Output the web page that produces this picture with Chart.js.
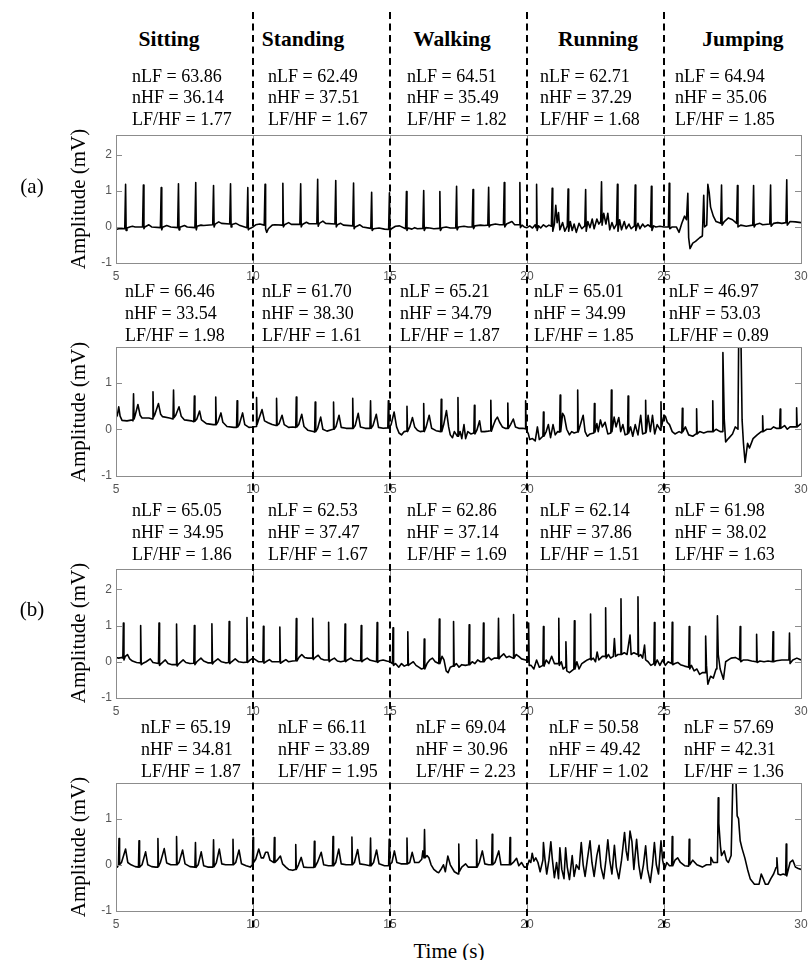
<!DOCTYPE html>
<html lang="en">
<head>
<meta charset="UTF-8">
<title>ECG amplitude during activities</title>
<script src="https://cdn.jsdelivr.net/npm/chart.js"></script>
<style>
  body { margin: 0; background: #fff; }
  #fig { position: relative; width: 808px; height: 960px; overflow: hidden;
         font-family: "Liberation Serif", "Times New Roman", serif; color: #000; }
  #fig canvas { position: absolute; left: 0; }
  .act  { position: absolute; font-weight: bold; font-size: 21.5px; line-height: 22px;
          white-space: nowrap; transform: translateX(-50%); }
  .stat { position: absolute; font-size: 18px; line-height: 21.8px; white-space: nowrap; }
  .ylab { position: absolute; font-size: 21px; line-height: 22px; white-space: nowrap;
          transform: translate(-50%, -50%) rotate(-90deg); }
  .tag  { position: absolute; font-size: 21px; line-height: 22px; transform: translate(-50%, -50%); }
  #overlay { z-index: 5; pointer-events: none; top: 0; }
</style>
</head>
<body>
<div id="fig"></div>

<script>
// ---- data ----
const activities = ['Sitting', 'Standing', 'Walking', 'Running', 'Jumping'];
const boundaries = [10, 15, 20, 25];
const xTicks = [5, 10, 15, 20, 25, 30];
const yTicksTall = [-1, 0, 1, 2];
const yTicksShort = [-1, 0, 1];

// one row per panel, one value per activity
const nLF   = [[63.86, 62.49, 64.51, 62.71, 64.94], [66.46, 61.70, 65.21, 65.01, 46.97],
               [65.05, 62.53, 62.86, 62.14, 61.98], [65.19, 66.11, 69.04, 50.58, 57.69]];
const nHF   = [[36.14, 37.51, 35.49, 37.29, 35.06], [33.54, 38.30, 34.79, 34.99, 53.03],
               [34.95, 37.47, 37.14, 37.86, 38.02], [34.81, 33.89, 30.96, 49.42, 42.31]];
const lfhf  = [[1.77, 1.67, 1.82, 1.68, 1.85], [1.98, 1.61, 1.87, 1.85, 0.89],
               [1.86, 1.67, 1.69, 1.51, 1.63], [1.87, 1.95, 2.23, 1.02, 1.36]];

// ECG traces, flat list of time (s), amplitude (mV) pairs
const sigA1 = [
  5.00,-0.07, 5.10,-0.05, 5.20,-0.04, 5.32,-0.05, 5.35,1.18, 5.37,-0.10, 5.40,-0.03, 5.50,0.00, 5.60,0.02, 5.70,0.00,
  5.97,0.00, 6.00,1.16, 6.02,-0.05, 6.05,0.00, 6.20,0.06, 6.30,0.00, 6.62,-0.02, 6.65,1.09, 6.67,-0.08, 6.70,-0.01,
  6.85,0.04, 7.00,0.00, 7.25,-0.02, 7.28,1.20, 7.30,-0.08, 7.33,-0.01, 7.50,0.04, 7.60,0.00, 7.88,-0.02, 7.91,1.23,
  7.93,-0.08, 7.96,0.02, 8.10,0.05, 8.20,0.04, 8.53,0.06, 8.56,1.15, 8.58,0.00, 8.62,0.08, 8.75,0.14, 8.85,0.10,
  9.15,0.08, 9.18,1.20, 9.20,0.00, 9.23,0.07, 9.38,0.10, 9.50,0.05, 9.78,-0.02, 9.81,1.09, 9.83,-0.08, 9.86,-0.05,
  9.95,-0.02, 10.00,0.00, 10.10,0.06, 10.25,0.08, 10.41,0.05, 10.44,1.18, 10.46,-0.05, 10.50,-0.15, 10.56,-0.05, 10.70,0.05,
  10.80,0.06, 11.06,0.05, 11.09,1.21, 11.11,0.00, 11.15,0.06, 11.30,0.12, 11.40,0.07, 11.71,0.07, 11.74,1.20, 11.76,0.00,
  11.80,0.07, 11.95,0.13, 12.05,0.09, 12.33,0.09, 12.36,1.32, 12.38,0.02, 12.42,0.10, 12.55,0.16, 12.65,0.10, 12.99,0.08,
  13.02,1.29, 13.04,0.00, 13.08,0.06, 13.20,0.10, 13.30,0.05, 13.64,0.03, 13.67,1.22, 13.69,-0.05, 13.73,0.00, 13.90,0.06,
  14.00,0.00, 14.30,-0.04, 14.33,0.96, 14.35,-0.10, 14.40,-0.05, 14.60,-0.03, 14.80,-0.06, 14.95,-0.07, 14.98,0.95, 15.00,-0.10,
  15.05,-0.05, 15.20,0.02, 15.35,0.03, 15.57,-0.05, 15.60,0.98, 15.62,-0.10, 15.66,-0.03, 15.80,-0.06, 15.90,-0.02, 16.00,-0.05,
  16.20,-0.04, 16.23,1.01, 16.25,-0.10, 16.30,-0.02, 16.45,-0.03, 16.60,-0.05, 16.79,-0.04, 16.82,0.98, 16.84,-0.10, 16.90,-0.02,
  17.05,0.00, 17.20,-0.03, 17.40,-0.03, 17.43,1.13, 17.45,-0.08, 17.50,0.00, 17.70,0.02, 17.85,0.00, 18.00,0.00, 18.03,1.04,
  18.05,-0.05, 18.10,0.03, 18.30,0.05, 18.45,0.04, 18.57,0.05, 18.60,1.10, 18.62,0.00, 18.66,0.05, 18.85,0.08, 19.00,0.06,
  19.14,0.06, 19.17,1.23, 19.19,0.00, 19.25,0.08, 19.45,0.15, 19.55,0.06, 19.71,0.06, 19.74,1.23, 19.76,-0.02, 19.82,0.05,
  19.90,0.00, 20.00,-0.02, 20.10,0.03, 20.20,-0.03, 20.30,0.06, 20.33,-0.02, 20.35,1.18, 20.37,-0.10, 20.42,0.03, 20.50,-0.03,
  20.60,0.06, 20.70,0.00, 20.80,0.05, 20.89,0.02, 20.92,1.07, 20.94,-0.12, 21.00,0.08, 21.05,0.60, 21.10,0.12, 21.15,0.40,
  21.20,-0.08, 21.30,0.12, 21.38,-0.12, 21.47,0.02, 21.50,1.05, 21.52,-0.12, 21.58,0.15, 21.65,-0.10, 21.72,0.08, 21.80,-0.15,
  21.90,0.10, 22.00,-0.05, 22.11,0.03, 22.14,1.04, 22.16,-0.12, 22.22,0.15, 22.30,-0.02, 22.38,0.22, 22.45,-0.05, 22.55,0.22,
  22.62,0.08, 22.69,0.15, 22.72,1.25, 22.74,0.05, 22.80,0.38, 22.88,0.08, 22.95,0.38, 23.02,-0.08, 23.10,0.12, 23.18,-0.05,
  23.27,0.08, 23.30,1.18, 23.32,-0.12, 23.38,0.20, 23.45,-0.08, 23.55,0.15, 23.62,-0.05, 23.72,0.08, 23.80,-0.05, 23.92,0.03,
  23.95,1.16, 23.97,-0.10, 24.05,0.10, 24.12,-0.05, 24.22,0.08, 24.30,0.00, 24.42,0.06, 24.51,0.00, 24.54,1.13, 24.56,-0.10,
  24.62,0.03, 24.70,0.00, 24.85,0.02, 25.00,0.00, 25.05,0.00, 25.16,0.00, 25.19,1.21, 25.21,-0.05, 25.30,0.00, 25.45,0.00,
  25.55,-0.15, 25.65,0.10, 25.75,0.30, 25.82,0.20, 25.87,0.93, 25.90,-0.30, 25.95,-0.60, 26.05,-0.45, 26.15,-0.40, 26.30,-0.30,
  26.40,-0.25, 26.45,0.88, 26.48,0.00, 26.56,0.05, 26.60,1.18, 26.65,0.95, 26.70,0.55, 26.80,0.30, 26.90,0.15, 27.07,0.10,
  27.10,1.16, 27.12,0.05, 27.20,0.15, 27.35,0.25, 27.50,0.20, 27.65,0.10, 27.68,1.15, 27.70,0.00, 27.80,0.05, 28.00,0.02,
  28.24,0.05, 28.27,1.15, 28.29,0.00, 28.35,0.07, 28.50,0.10, 28.60,0.06, 28.86,0.08, 28.89,1.16, 28.91,0.02, 29.00,0.10,
  29.15,0.12, 29.30,0.10, 29.45,0.12, 29.48,1.31, 29.50,0.05, 29.60,0.15, 29.80,0.14, 30.00,0.12
];

const sigA2 = [
  5.00,0.25, 5.05,0.30, 5.10,0.48, 5.15,0.28, 5.22,0.19, 5.40,0.18, 5.60,0.20, 5.62,0.18, 5.64,0.76, 5.66,0.22,
  5.70,0.30, 5.80,0.53, 5.88,0.30, 5.95,0.24, 6.20,0.24, 6.33,0.22, 6.35,0.80, 6.37,0.26, 6.42,0.32, 6.55,0.55,
  6.63,0.32, 6.70,0.27, 6.95,0.24, 7.08,0.22, 7.10,0.84, 7.12,0.25, 7.18,0.30, 7.30,0.48, 7.38,0.28, 7.50,0.20,
  7.75,0.18, 7.84,0.16, 7.86,0.71, 7.88,0.17, 7.95,0.22, 8.05,0.39, 8.12,0.20, 8.30,0.12, 8.55,0.10, 8.62,0.10,
  8.64,0.69, 8.66,0.10, 8.72,0.16, 8.83,0.35, 8.90,0.15, 9.05,0.06, 9.30,0.04, 9.40,0.04, 9.42,0.61, 9.44,0.05,
  9.50,0.10, 9.62,0.35, 9.70,0.10, 9.85,0.04, 10.00,0.05, 10.11,0.06, 10.13,0.68, 10.15,0.10, 10.20,0.20, 10.33,0.42,
  10.42,0.18, 10.55,0.14, 10.70,0.10, 10.84,0.08, 10.86,0.66, 10.88,0.08, 10.95,0.12, 11.06,0.30, 11.14,0.10, 11.30,0.04,
  11.45,0.05, 11.56,0.04, 11.58,0.69, 11.60,0.05, 11.67,0.10, 11.78,0.32, 11.86,0.06, 12.00,-0.02, 12.20,-0.05, 12.25,-0.06,
  12.27,0.58, 12.29,-0.05, 12.36,0.02, 12.47,0.26, 12.55,0.00, 12.70,-0.04, 12.92,0.00, 12.94,0.58, 12.96,0.00, 13.03,0.06,
  13.14,0.30, 13.22,0.04, 13.40,0.02, 13.62,0.02, 13.64,0.66, 13.66,0.02, 13.73,0.08, 13.84,0.34, 13.92,0.05, 14.10,0.02,
  14.27,0.02, 14.29,0.61, 14.31,0.02, 14.38,0.08, 14.50,0.32, 14.58,0.04, 14.75,0.02, 14.92,0.03, 14.94,0.61, 14.96,0.02,
  15.04,0.10, 15.15,0.37, 15.24,0.05, 15.33,-0.08, 15.42,-0.12, 15.52,-0.05, 15.60,-0.04, 15.62,0.49, 15.64,-0.05, 15.72,0.05,
  15.82,0.25, 15.90,0.05, 16.00,-0.02, 16.10,-0.05, 16.21,-0.04, 16.23,0.55, 16.25,-0.05, 16.32,0.05, 16.43,0.30, 16.52,0.02,
  16.68,-0.03, 16.85,-0.05, 16.87,0.64, 16.89,-0.05, 16.96,0.10, 17.06,0.40, 17.14,0.05, 17.20,-0.12, 17.28,-0.18, 17.35,-0.05,
  17.46,-0.15, 17.48,0.68, 17.50,-0.15, 17.56,-0.05, 17.62,-0.20, 17.70,0.10, 17.76,-0.20, 17.84,-0.05, 17.95,-0.10, 18.06,-0.08,
  18.08,0.51, 18.10,-0.10, 18.17,-0.02, 18.27,0.18, 18.33,-0.05, 18.45,-0.05, 18.58,-0.04, 18.66,-0.03, 18.68,0.62, 18.70,-0.04,
  18.77,0.08, 18.85,0.20, 18.92,0.26, 19.00,0.15, 19.10,0.05, 19.20,0.02, 19.28,0.02, 19.30,0.56, 19.32,0.02, 19.40,0.10,
  19.50,0.22, 19.58,0.05, 19.70,0.02, 19.85,0.02, 19.93,0.01, 19.95,0.61, 19.97,0.00, 20.05,-0.10, 20.10,-0.22, 20.20,-0.20,
  20.30,-0.25, 20.38,0.05, 20.45,-0.22, 20.58,-0.15, 20.60,0.37, 20.62,-0.15, 20.70,-0.05, 20.78,0.10, 20.86,-0.18, 20.95,0.10,
  21.03,-0.12, 21.12,-0.05, 21.19,-0.06, 21.21,0.73, 21.23,-0.05, 21.30,0.34, 21.36,0.28, 21.45,0.00, 21.55,-0.12, 21.63,-0.05,
  21.72,-0.08, 21.83,-0.06, 21.85,0.84, 21.87,-0.06, 21.95,0.10, 22.05,0.30, 22.12,-0.05, 22.20,-0.15, 22.30,-0.10, 22.44,-0.08,
  22.46,0.55, 22.48,-0.06, 22.55,0.12, 22.60,-0.05, 22.68,0.20, 22.75,0.05, 22.85,0.15, 22.95,-0.10, 23.06,-0.08, 23.08,0.84,
  23.10,-0.05, 23.18,0.26, 23.25,0.05, 23.35,0.25, 23.42,-0.05, 23.50,0.10, 23.58,-0.12, 23.67,-0.10, 23.69,0.71, 23.71,-0.08,
  23.78,0.05, 23.86,-0.15, 23.95,0.10, 24.05,-0.12, 24.15,0.30, 24.22,-0.10, 24.31,-0.08, 24.33,0.62, 24.35,-0.06, 24.42,0.30,
  24.50,-0.05, 24.58,0.30, 24.66,-0.10, 24.75,0.10, 24.87,-0.02, 24.89,0.59, 24.91,0.05, 24.98,0.25, 25.05,0.28, 25.12,0.15,
  25.20,0.10, 25.30,-0.05, 25.40,-0.10, 25.55,-0.05, 25.65,-0.08, 25.67,0.45, 25.69,-0.05, 25.78,0.05, 25.90,-0.12, 26.05,-0.15,
  26.17,-0.10, 26.19,0.44, 26.21,-0.10, 26.30,-0.05, 26.45,-0.08, 26.60,-0.05, 26.76,-0.05, 26.78,0.61, 26.80,-0.05, 26.90,0.00,
  27.05,-0.05, 27.13,-0.05, 27.15,1.64, 27.20,0.20, 27.25,-0.27, 27.35,-0.20, 27.50,-0.10, 27.60,0.05, 27.70,0.00, 27.73,2.30,
  27.80,2.30, 27.85,0.20, 27.90,-0.30, 27.96,-0.71, 28.05,-0.30, 28.12,-0.40, 28.25,-0.20, 28.40,-0.12, 28.55,-0.05, 28.58,-0.05,
  28.60,0.29, 28.62,-0.05, 28.75,0.00, 28.90,0.00, 29.00,0.05, 29.10,0.02, 29.22,0.02, 29.24,0.43, 29.26,0.02, 29.40,0.08,
  29.50,0.00, 29.60,0.05, 29.72,0.05, 29.82,0.05, 29.84,0.46, 29.86,0.05, 30.00,0.12
];

const sigB1 = [
  5.00,0.12, 5.10,0.10, 5.20,0.12, 5.25,0.10, 5.27,1.07, 5.29,0.05, 5.34,0.15, 5.42,0.20, 5.50,0.08, 5.60,0.02,
  5.75,-0.02, 5.88,-0.03, 5.90,1.00, 5.92,-0.08, 5.97,-0.05, 6.10,0.00, 6.25,0.08, 6.35,-0.02, 6.55,-0.05, 6.57,1.07,
  6.59,-0.10, 6.65,-0.05, 6.80,0.05, 6.90,-0.05, 7.05,-0.08, 7.19,-0.08, 7.21,1.04, 7.23,-0.12, 7.30,-0.05, 7.45,0.05,
  7.55,-0.02, 7.70,-0.05, 7.84,-0.04, 7.86,1.00, 7.88,-0.08, 7.95,0.00, 8.10,0.10, 8.20,0.02, 8.35,-0.03, 8.48,-0.03,
  8.50,1.05, 8.52,-0.06, 8.58,0.00, 8.72,0.08, 8.85,0.00, 9.00,-0.03, 9.11,-0.02, 9.13,1.11, 9.15,-0.05, 9.22,0.00,
  9.35,0.08, 9.48,0.00, 9.65,-0.02, 9.76,-0.01, 9.78,1.22, 9.80,-0.02, 9.90,0.05, 10.00,0.10, 10.10,0.05, 10.20,0.00,
  10.36,0.00, 10.38,0.98, 10.40,-0.04, 10.47,0.00, 10.60,0.06, 10.70,0.00, 10.85,0.00, 10.96,0.00, 10.98,0.96, 11.00,-0.04,
  11.08,0.00, 11.20,0.06, 11.30,0.00, 11.45,0.02, 11.56,0.03, 11.58,1.19, 11.60,0.02, 11.68,0.12, 11.78,0.20, 11.88,0.12,
  12.00,0.10, 12.16,0.10, 12.18,1.20, 12.20,0.06, 12.27,0.12, 12.38,0.18, 12.48,0.08, 12.60,0.05, 12.74,0.05, 12.76,1.09,
  12.78,0.00, 12.85,0.05, 12.97,0.10, 13.08,0.02, 13.20,0.00, 13.34,0.02, 13.36,1.04, 13.38,0.00, 13.45,0.05, 13.57,0.10,
  13.68,0.04, 13.80,0.03, 13.93,0.03, 13.95,1.00, 13.97,0.00, 14.05,0.05, 14.17,0.10, 14.28,0.04, 14.40,0.02, 14.51,0.00,
  14.53,1.08, 14.55,-0.02, 14.62,0.03, 14.75,0.05, 14.88,0.02, 15.00,0.00, 15.09,-0.05, 15.11,0.94, 15.13,-0.10, 15.20,-0.05,
  15.32,-0.15, 15.42,-0.05, 15.52,-0.12, 15.63,-0.08, 15.65,0.83, 15.67,-0.10, 15.75,-0.05, 15.85,0.00, 15.95,-0.10, 16.05,-0.15,
  16.15,-0.20, 16.23,-0.18, 16.25,0.63, 16.27,-0.20, 16.35,-0.05, 16.45,0.05, 16.55,0.10, 16.65,0.00, 16.78,-0.05, 16.80,1.18,
  16.82,-0.05, 16.90,0.15, 16.97,0.05, 17.05,-0.25, 17.12,-0.30, 17.20,-0.15, 17.30,-0.12, 17.32,1.11, 17.34,-0.12, 17.42,-0.05,
  17.52,-0.15, 17.62,-0.08, 17.75,-0.10, 17.87,-0.08, 17.89,1.02, 17.91,-0.08, 18.00,0.00, 18.10,-0.05, 18.20,0.05, 18.30,0.00,
  18.39,0.00, 18.41,1.07, 18.43,0.00, 18.50,0.08, 18.60,0.12, 18.70,0.05, 18.80,0.10, 18.94,0.10, 18.96,1.20, 18.98,0.08,
  19.05,0.15, 19.15,0.22, 19.25,0.12, 19.35,0.15, 19.49,0.10, 19.51,1.30, 19.53,0.10, 19.60,0.20, 19.70,0.15, 19.80,0.08,
  19.95,0.05, 20.04,0.00, 20.06,1.07, 20.08,-0.10, 20.15,-0.10, 20.25,-0.20, 20.35,0.05, 20.45,-0.15, 20.58,-0.10, 20.60,0.97,
  20.62,-0.12, 20.70,0.05, 20.80,-0.05, 20.90,0.15, 21.00,-0.05, 21.14,-0.05, 21.16,1.20, 21.18,-0.10, 21.25,0.00, 21.32,-0.20,
  21.40,-0.15, 21.42,0.55, 21.45,-0.25, 21.55,-0.30, 21.63,-0.25, 21.71,-0.20, 21.73,1.13, 21.75,-0.20, 21.82,0.00, 21.90,-0.20,
  22.00,-0.05, 22.10,0.00, 22.20,0.05, 22.30,0.08, 22.32,1.32, 22.34,0.05, 22.42,0.10, 22.50,0.00, 22.56,0.27, 22.62,0.05,
  22.75,0.15, 22.85,0.15, 22.87,1.49, 22.89,0.10, 22.97,0.20, 23.05,0.10, 23.15,0.15, 23.19,0.64, 23.23,0.15, 23.32,0.20,
  23.41,0.20, 23.43,1.74, 23.45,0.20, 23.55,0.25, 23.65,0.20, 23.76,0.74, 23.80,0.20, 23.90,0.25, 24.03,0.20, 24.05,1.79,
  24.07,0.15, 24.15,0.20, 24.22,0.10, 24.29,0.46, 24.33,0.05, 24.42,0.00, 24.52,-0.10, 24.63,-0.05, 24.65,1.08, 24.67,-0.10,
  24.75,0.05, 24.85,-0.10, 24.95,0.05, 25.05,-0.10, 25.15,0.00, 25.28,-0.05, 25.30,1.09, 25.32,-0.08, 25.40,-0.05, 25.50,-0.02,
  25.60,-0.08, 25.75,-0.12, 25.90,-0.15, 25.92,0.97, 25.94,-0.20, 26.00,-0.10, 26.10,-0.25, 26.20,-0.20, 26.30,-0.35, 26.40,-0.30,
  26.50,-0.30, 26.52,0.71, 26.55,-0.10, 26.60,-0.62, 26.70,-0.40, 26.80,-0.45, 26.90,-0.20, 26.93,-0.15, 26.95,1.27, 26.98,0.20,
  27.05,-0.20, 27.17,-0.48, 27.25,0.00, 27.35,0.05, 27.45,0.10, 27.60,0.12, 27.70,0.08, 27.76,0.05, 27.78,0.97, 27.80,0.00,
  27.90,0.05, 28.05,0.05, 28.20,0.02, 28.36,0.00, 28.38,0.76, 28.40,-0.02, 28.50,0.02, 28.65,0.00, 28.80,0.02, 28.96,0.00,
  28.98,0.83, 29.00,0.00, 29.10,0.03, 29.30,0.05, 29.45,0.05, 29.56,0.05, 29.58,0.79, 29.60,-0.05, 29.70,0.05, 29.85,0.10,
  30.00,0.05
];

const sigB2 = [
  5.00,0.00, 5.05,-0.05, 5.09,0.00, 5.11,0.57, 5.13,0.00, 5.20,0.05, 5.35,0.34, 5.43,0.05, 5.55,0.00, 5.70,-0.04,
  5.82,-0.05, 5.84,0.52, 5.86,-0.05, 5.95,0.00, 6.08,0.28, 6.16,0.00, 6.30,-0.04, 6.45,-0.05, 6.51,-0.05, 6.53,0.57,
  6.55,-0.04, 6.62,0.05, 6.76,0.35, 6.85,0.04, 7.00,0.00, 7.19,0.00, 7.21,0.61, 7.23,0.00, 7.30,0.05, 7.43,0.32,
  7.52,0.02, 7.70,-0.04, 7.88,-0.05, 7.90,0.48, 7.92,-0.06, 8.00,0.00, 8.11,0.28, 8.20,-0.02, 8.35,-0.05, 8.54,-0.05,
  8.56,0.54, 8.58,-0.04, 8.66,0.04, 8.77,0.34, 8.86,0.02, 9.00,0.00, 9.25,0.00, 9.27,0.55, 9.29,0.00, 9.37,0.05,
  9.49,0.32, 9.58,0.02, 9.75,-0.02, 9.90,-0.05, 9.98,0.00, 10.00,0.59, 10.02,0.05, 10.10,0.12, 10.21,0.34, 10.30,0.15,
  10.38,0.15, 10.46,0.27, 10.54,0.27, 10.62,0.10, 10.76,0.05, 10.78,0.59, 10.80,0.05, 10.88,0.10, 11.00,0.19, 11.08,0.02,
  11.20,-0.05, 11.30,-0.10, 11.45,-0.12, 11.54,-0.10, 11.56,0.44, 11.58,-0.10, 11.66,0.00, 11.76,0.16, 11.85,-0.05, 12.00,-0.06,
  12.22,-0.06, 12.24,0.51, 12.26,-0.05, 12.35,0.05, 12.49,0.27, 12.58,0.00, 12.75,-0.02, 12.90,-0.02, 12.92,0.61, 12.94,-0.02,
  13.02,0.05, 13.13,0.34, 13.22,0.02, 13.40,0.00, 13.59,0.00, 13.61,0.60, 13.63,0.00, 13.70,0.05, 13.82,0.33, 13.90,0.02,
  14.10,0.00, 14.27,-0.02, 14.29,0.58, 14.31,-0.02, 14.40,0.05, 14.51,0.32, 14.60,0.02, 14.80,-0.02, 14.95,-0.02, 14.97,0.55,
  14.99,0.00, 15.07,0.05, 15.16,0.30, 15.25,0.05, 15.40,0.02, 15.60,0.02, 15.62,0.58, 15.64,0.02, 15.72,0.05, 15.81,0.27,
  15.90,0.05, 16.05,0.05, 16.16,0.12, 16.20,0.30, 16.24,0.15, 16.26,0.76, 16.28,0.15, 16.35,0.20, 16.42,0.15, 16.50,0.00,
  16.60,-0.10, 16.70,-0.15, 16.78,-0.17, 16.88,-0.08, 16.95,0.00, 17.02,-0.15, 17.11,0.19, 17.20,0.00, 17.35,-0.15, 17.49,-0.20,
  17.51,0.45, 17.53,-0.15, 17.62,-0.05, 17.76,0.02, 17.85,-0.05, 18.00,-0.05, 18.14,-0.05, 18.16,0.54, 18.18,-0.05, 18.26,0.05,
  18.37,0.30, 18.46,0.02, 18.60,0.00, 18.71,0.00, 18.73,0.66, 18.75,0.00, 18.83,0.05, 18.97,0.30, 19.05,0.00, 19.20,0.00,
  19.36,0.00, 19.38,0.59, 19.40,0.00, 19.50,0.05, 19.62,0.14, 19.70,-0.02, 19.80,0.05, 19.90,-0.05, 20.00,-0.05, 20.08,0.10,
  20.14,0.05, 20.19,0.25, 20.25,0.08, 20.32,0.15, 20.40,0.05, 20.48,-0.15, 20.58,0.10, 20.60,0.48, 20.65,0.15, 20.72,-0.20,
  20.80,0.10, 20.87,0.50, 20.92,0.15, 21.00,-0.28, 21.08,0.05, 21.15,-0.30, 21.20,0.37, 21.27,-0.10, 21.35,-0.30, 21.41,0.37,
  21.47,-0.05, 21.55,-0.32, 21.65,0.20, 21.72,-0.25, 21.80,0.00, 21.90,-0.10, 21.98,0.48, 22.05,0.00, 22.12,-0.25, 22.20,0.10,
  22.30,0.52, 22.37,0.05, 22.45,-0.25, 22.55,0.20, 22.63,0.42, 22.70,-0.05, 22.80,-0.30, 22.88,0.10, 22.95,0.54, 23.02,0.10,
  23.10,-0.20, 23.19,0.42, 23.26,-0.05, 23.35,-0.30, 23.45,0.10, 23.56,0.70, 23.62,0.30, 23.68,0.10, 23.76,0.73, 23.83,0.50,
  23.90,-0.10, 24.00,0.55, 24.08,0.00, 24.16,-0.30, 24.25,0.00, 24.33,0.41, 24.40,-0.10, 24.50,-0.38, 24.58,0.00, 24.65,0.48,
  24.72,0.00, 24.80,-0.20, 24.89,0.52, 24.95,0.10, 25.02,-0.10, 25.10,0.05, 25.20,-0.02, 25.28,-0.02, 25.30,0.61, 25.32,-0.02,
  25.40,0.10, 25.50,0.15, 25.60,0.05, 25.75,-0.02, 25.90,-0.03, 25.92,0.55, 25.94,0.00, 26.05,0.10, 26.20,0.00, 26.40,-0.05,
  26.55,0.00, 26.69,0.00, 26.71,0.16, 26.80,0.05, 26.95,0.05, 26.98,1.45, 27.00,0.90, 27.02,0.73, 27.06,0.40, 27.10,0.20,
  27.20,0.30, 27.28,0.10, 27.35,0.05, 27.45,0.20, 27.53,2.30, 27.60,2.30, 27.67,1.06, 27.72,1.00, 27.78,0.52, 27.85,0.35,
  27.95,0.15, 28.05,-0.10, 28.15,-0.31, 28.30,-0.42, 28.40,-0.42, 28.47,-0.42, 28.55,-0.20, 28.62,-0.30, 28.70,-0.42, 28.80,-0.42,
  28.90,-0.30, 29.00,-0.20, 29.09,-0.06, 29.12,0.15, 29.16,-0.20, 29.25,-0.22, 29.35,-0.20, 29.44,-0.22, 29.46,0.45, 29.48,-0.24,
  29.60,0.05, 29.70,0.10, 29.80,-0.05, 29.90,-0.08, 30.00,-0.10
];

// ---- layout ----
const fig = document.getElementById('fig');
const PAD_TOP = 10, X_AXIS_H = 26, Y_AXIS_W = 30, PAD_LEFT = 86, PAD_RIGHT = 7;

const panels = [
  { sig: sigA1, top: 135, bottom: 263, ymax: 2.55, yt: yTicksTall,  statTop: 65.7,  statX: [132, 268, 407, 540, 675] },
  { sig: sigA2, top: 347, bottom: 476, ymax: 1.76, yt: yTicksShort, statTop: 281.3, statX: [125, 262, 400, 534, 669] },
  { sig: sigB1, top: 569, bottom: 697.5, ymax: 2.56, yt: yTicksTall,  statTop: 500.3, statX: [132, 268, 407, 540, 675] },
  { sig: sigB2, top: 783, bottom: 911, ymax: 1.77, yt: yTicksShort, statTop: 717.3, statX: [141, 278, 416, 549, 684] }
];

function toXY(flat) {
  const out = [];
  for (let i = 0; i < flat.length; i += 2) out.push({ x: flat[i], y: flat[i + 1] });
  return out;
}

function addDiv(cls, html, left, top) {
  const d = document.createElement('div');
  d.className = cls;
  d.innerHTML = html;
  d.style.left = left + 'px';
  d.style.top = top + 'px';
  fig.appendChild(d);
  return d;
}

// box with inward tick marks, MATLAB style
const axesBox = {
  id: 'axesBox',
  afterDatasetsDraw(chart) {
    const { ctx, chartArea: a, scales: { x, y } } = chart;
    ctx.save();
    ctx.strokeStyle = '#8c8c8c';
    ctx.lineWidth = 1;
    ctx.beginPath();
    x.ticks.forEach(t => {
      const px = Math.round(x.getPixelForValue(t.value)) + 0.5;
      ctx.moveTo(px, a.bottom); ctx.lineTo(px, a.bottom - 6);
      ctx.moveTo(px, a.top);    ctx.lineTo(px, a.top + 6);
    });
    y.ticks.forEach(t => {
      const py = Math.round(y.getPixelForValue(t.value)) + 0.5;
      ctx.moveTo(a.left, py);  ctx.lineTo(a.left + 6, py);
      ctx.moveTo(a.right, py); ctx.lineTo(a.right - 6, py);
    });
    ctx.stroke();
    ctx.strokeRect(Math.round(a.left) + 0.5, Math.round(a.top) + 0.5,
                   Math.round(a.right - a.left), Math.round(a.bottom - a.top));
    ctx.restore();
  }
};

const tickFont = { family: '"Liberation Sans", Arial, sans-serif', size: 12 };

const charts = panels.map(p => {
  const cv = document.createElement('canvas');
  const h = Math.round(PAD_TOP + (p.bottom - p.top) + X_AXIS_H);
  cv.width = 808; cv.height = h;
  cv.style.width = '808px'; cv.style.height = h + 'px';
  cv.style.top = (p.top - PAD_TOP) + 'px';
  fig.appendChild(cv);
  return new Chart(cv, {
    type: 'line',
    data: {
      datasets: [{
        data: toXY(p.sig),
        borderColor: '#000',
        borderWidth: 1.6,
        pointRadius: 0,
        tension: 0,
        fill: false,
        borderJoinStyle: 'round'
      }]
    },
    options: {
      responsive: false,
      animation: false,
      events: [],
      layout: { padding: { left: PAD_LEFT, right: PAD_RIGHT, top: PAD_TOP, bottom: 0 } },
      plugins: { legend: { display: false }, tooltip: { enabled: false } },
      scales: {
        x: {
          type: 'linear', min: 5, max: 30,
          afterBuildTicks: s => { s.ticks = xTicks.map(v => ({ value: v })); },
          afterFit: s => { s.height = X_AXIS_H; s.paddingLeft = 0; s.paddingRight = 0; },
          grid: { display: false, drawTicks: false },
          border: { display: false },
          ticks: { color: '#555', font: tickFont, padding: 6, maxRotation: 0, autoSkip: false }
        },
        y: {
          type: 'linear', min: -1, max: p.ymax,
          afterBuildTicks: s => { s.ticks = p.yt.map(v => ({ value: v })); },
          afterFit: s => { s.width = Y_AXIS_W; s.paddingTop = 0; s.paddingBottom = 0; },
          grid: { display: false, drawTicks: false },
          border: { display: false },
          ticks: { color: '#555', font: tickFont, padding: 4 }
        }
      }
    },
    plugins: [axesBox]
  });
});

// activity headers
const actX = [169, 303, 452, 598, 743];
activities.forEach((a, i) => addDiv('act', a, actX[i], 28.4));

// HRV statistics above each panel
panels.forEach((p, r) => {
  p.statX.forEach((x, i) => {
    addDiv('stat', 'nLF = ' + nLF[r][i].toFixed(2) + '<br>nHF = ' + nHF[r][i].toFixed(2) +
           '<br>LF/HF = ' + lfhf[r][i].toFixed(2), x, p.statTop);
  });
  addDiv('ylab', 'Amplitude (mV)', 78, (p.top + p.bottom) / 2);
});

addDiv('tag', '(a)', 32, 186);
addDiv('tag', '(b)', 32, 609);
addDiv('tag', 'Time (s)', 449, 951);

// dashed activity boundaries through the whole figure
const ov = document.createElement('canvas');
ov.id = 'overlay';
ov.width = 808; ov.height = 960;
fig.appendChild(ov);
const octx = ov.getContext('2d');
const xs = charts[0].scales.x;
octx.strokeStyle = '#000';
octx.lineWidth = 2;
octx.setLineDash([7, 4.5]);
boundaries.forEach(b => {
  const px = Math.round(xs.getPixelForValue(b));
  octx.beginPath();
  octx.moveTo(px, 12);
  octx.lineTo(px, 930);
  octx.stroke();
});
</script>
</body>
</html>
